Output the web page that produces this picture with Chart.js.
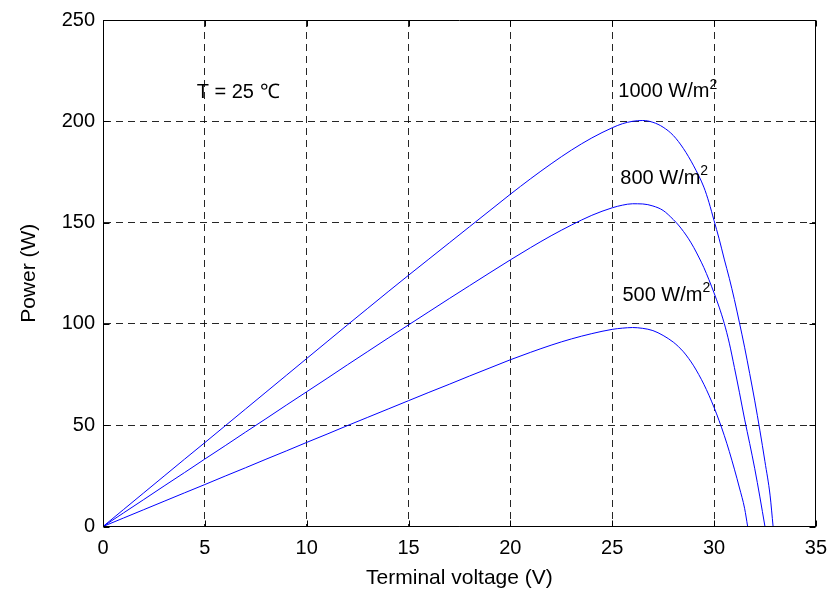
<!DOCTYPE html>
<html>
<head>
<meta charset="utf-8">
<script src="https://cdn.jsdelivr.net/npm/chart.js@4.4.1/dist/chart.umd.min.js"></script>
<style>
  html, body { margin: 0; padding: 0; background: #ffffff; }
  #wrap { width: 837px; height: 598px; }
</style>
</head>
<body>
<div id="wrap"><canvas id="pv" width="837" height="598"></canvas></div>
<script>
// P-V characteristics of the PV module at T = 25 °C for three irradiance levels.
const voltage1000 = [0,1,2,3,4,5,6,7,8,9,10,11,12,13,14,15,16,17,18,19,20,21,22,23,24,25,25.5,26,26.5,27,27.5,28,28.5,29,29.5,29.75,30,30.25,30.5,30.75,31,31.25,31.5,31.75,32,32.25,32.5,32.75,32.9];
const power1000   = [0,8.3,16.6,24.9,33.2,41.4,49.7,58.0,66.3,74.6,82.9,91.2,99.5,107.7,115.9,124.0,132.0,140.0,148.0,156.0,164.0,171.7,179.0,185.8,191.8,196.8,198.8,200.0,200.4,199.5,197.1,193.0,186.5,178.0,167.5,160.0,151.0,142.0,132.0,122.5,112.0,100.5,88.5,75.5,62.0,47.5,32.0,15.5,0];

const voltage800 = [0,1,2,3,4,5,6,7,8,9,10,11,12,13,14,15,16,17,18,19,20,21,22,23,24,25,25.5,26,26.5,27,27.5,28,28.25,28.5,28.75,29,29.25,29.5,29.75,30,30.25,30.5,30.75,31,31.25,31.5,31.75,32,32.25,32.5];
const power800   = [0,6.65,13.3,20.0,26.6,33.3,39.9,46.6,53.2,59.9,66.5,73.1,79.8,86.4,93.0,99.5,106.0,112.5,118.9,125.3,131.6,137.7,143.5,148.8,153.6,157.3,158.6,159.3,159.2,158.2,156.0,151.5,148.8,145.6,142.0,137.8,133.0,127.8,121.8,115.3,108.3,100.3,90.5,78.5,66.0,53.0,41.0,28.5,14.6,0];

const voltage500 = [0,1,2,3,4,5,6,7,8,9,10,11,12,13,14,15,16,17,18,19,20,21,22,23,24,25,25.5,26,26.5,27,27.5,28,28.25,28.5,28.75,29,29.25,29.5,29.75,30,30.25,30.5,30.75,31,31.25,31.5,31.65];
const power500   = [0,4.15,8.3,12.45,16.6,20.7,24.9,29.0,33.2,37.3,41.5,45.6,49.8,53.9,58.0,62.1,66.2,70.2,74.3,78.3,82.3,86.0,89.5,92.6,95.2,97.3,97.9,98.2,97.8,96.7,94.3,91.0,88.8,86.2,83.0,79.3,75.0,70.2,64.8,58.8,52.2,45.0,37.0,28.3,19.0,9.0,0];

// Axis tick values
const xTicks = [0,5,10,15,20,25,30,35];
const yTicks = [0,50,100,150,200,250];

// Text placed inside the axes: [label, voltage, power, superscript]
const notes = [
  ['T = 25 \u2103', 4.6, 214, ''],
  ['1000 W/m', 25.3, 214.5, '2'],
  ['800 W/m', 25.4, 172, '2'],
  ['500 W/m', 25.5, 114, '2']
];

const FONT = 'Arial, "Liberation Sans", Helvetica, sans-serif';
const FSIZE = 20;
const TSIZE = 21;

function pts(xs, ys) { return xs.map((v, i) => ({ x: v, y: ys[i] })); }

const line = (data) => ({
  data, borderColor: '#0000ff', borderWidth: 1, pointRadius: 0,
  cubicInterpolationMode: 'monotone', fill: false
});

// Solid frame, inward tick marks and in-plot labels
const framePlugin = {
  id: 'frame',
  afterDatasetsDraw(chart) {
    const { ctx, chartArea: a, scales: { x, y } } = chart;
    ctx.save();
    ctx.strokeStyle = '#000';
    ctx.lineWidth = 1;
    ctx.setLineDash([]);
    const L = Math.round(a.left) + 0.5, R = Math.round(a.right) - 0.5;
    const T = Math.round(a.top) + 0.5, B = Math.round(a.bottom) - 0.5;
    ctx.beginPath();
    ctx.rect(L, T, R - L, B - T);
    const tl = 6;
    xTicks.forEach(v => {
      const px = Math.round(x.getPixelForValue(v)) + 0.5;
      ctx.moveTo(px, B); ctx.lineTo(px, B - tl);
      ctx.moveTo(px, T); ctx.lineTo(px, T + tl);
    });
    yTicks.forEach(v => {
      const py = Math.round(y.getPixelForValue(v)) + 0.5;
      ctx.moveTo(L, py); ctx.lineTo(L + tl, py);
      ctx.moveTo(R, py); ctx.lineTo(R - tl, py);
    });
    ctx.stroke();

    ctx.fillStyle = '#000';
    ctx.textBaseline = 'middle';
    ctx.textAlign = 'left';
    notes.forEach(([txt, v, p, sup]) => {
      const px = x.getPixelForValue(v), py = y.getPixelForValue(p);
      ctx.font = FSIZE + 'px ' + FONT;
      ctx.fillText(txt, px, py);
      if (sup) {
        const w = ctx.measureText(txt).width;
        ctx.font = Math.round(FSIZE * 0.72) + 'px ' + FONT;
        ctx.fillText(sup, px + w, py - 7);
      }
    });
    ctx.restore();
  }
};

new Chart(document.getElementById('pv'), {
  type: 'line',
  data: {
    datasets: [
      line(pts(voltage1000, power1000)),
      line(pts(voltage800, power800)),
      line(pts(voltage500, power500))
    ]
  },
  options: {
    responsive: false,
    animation: false,
    events: [],
    layout: { padding: { left: 0, right: 19, top: 20, bottom: 0 } },
    plugins: { legend: { display: false }, tooltip: { enabled: false } },
    scales: {
      x: {
        type: 'linear', min: 0, max: 35,
        afterBuildTicks: (s) => { s.ticks = xTicks.map(v => ({ value: v })); },
        afterFit: (s) => { s.height = 71.5; },
        ticks: { color: '#000', padding: 10, font: { family: FONT, size: FSIZE } },
        grid: { color: 'rgba(0,0,0,0.85)', lineWidth: 1, drawTicks: false },
        border: { display: true, color: '#000', width: 1, dash: [7, 5] },
        title: { display: true, text: 'Terminal voltage (V)', color: '#000',
                 font: { family: FONT, size: TSIZE }, padding: { top: 0, bottom: 7 } }
      },
      y: {
        type: 'linear', min: 0, max: 250,
        afterBuildTicks: (s) => { s.ticks = yTicks.map(v => ({ value: v })); },
        afterFit: (s) => { s.width = 103; },
        ticks: { color: '#000', padding: 8, font: { family: FONT, size: FSIZE } },
        grid: { color: 'rgba(0,0,0,0.85)', lineWidth: 1, drawTicks: false },
        border: { display: true, color: '#000', width: 1, dash: [7, 5] },
        title: { display: true, text: 'Power (W)', color: '#000',
                 font: { family: FONT, size: TSIZE }, padding: { top: 17, bottom: 0 } }
      }
    }
  },
  plugins: [framePlugin]
});
</script>
</body>
</html>
